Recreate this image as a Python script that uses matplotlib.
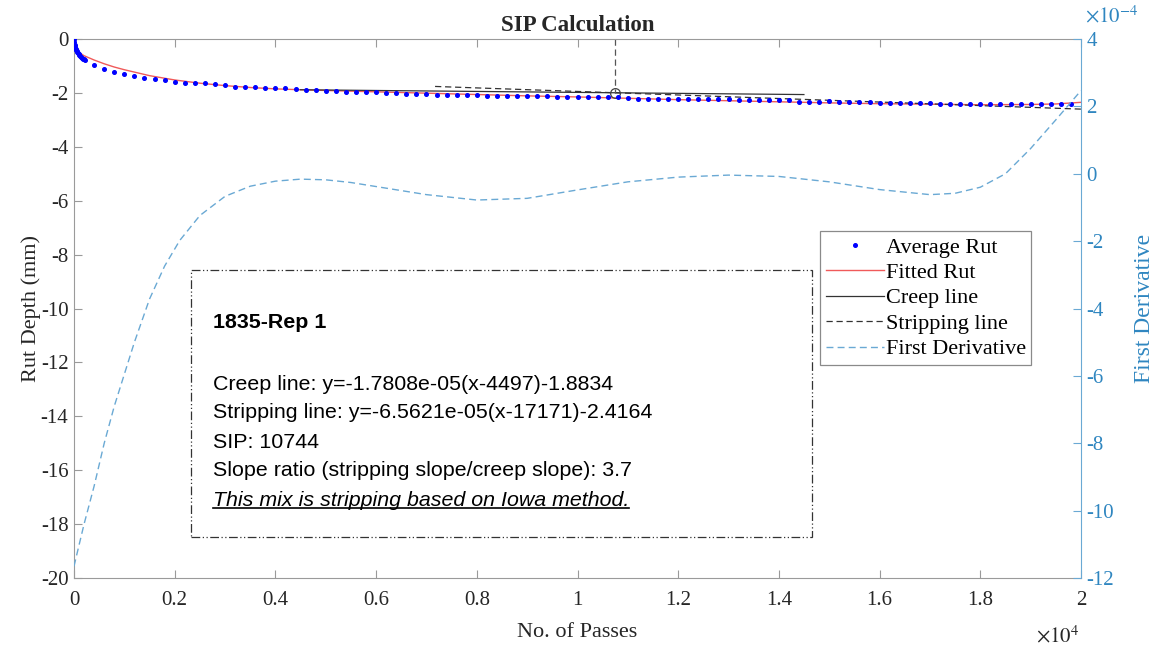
import numpy as np
import matplotlib.pyplot as plt
from matplotlib.patches import Rectangle
from matplotlib.lines import Line2D

plt.rcParams["axes.unicode_minus"] = False
plt.rcParams["mathtext.fontset"] = "stix"
SERIF = ["Liberation Serif", "DejaVu Serif"]
SANS = ["Liberation Sans", "DejaVu Sans"]

# ---- data ----
# average rut: dense start, then one reading every 200 passes
rut_pass = [0, 5, 10, 15, 20, 30, 40, 50, 60, 75, 90, 105, 120, 140, 160, 180, 200, 220,
            400, 600, 800, 1000, 1200, 1400, 1600, 1800, 2000, 2200, 2400, 2600, 2800, 3000,
            3200, 3400, 3600, 3800, 4000, 4200, 4400, 4600, 4800, 5000, 5200, 5400, 5600, 5800,
            6000, 6200, 6400, 6600, 6800, 7000, 7200, 7400, 7600, 7800, 8000, 8200, 8400, 8600,
            8800, 9000, 9200, 9400, 9600, 9800, 10000, 10200, 10400, 10600, 10800, 11000, 11200,
            11400, 11600, 11800, 12000, 12200, 12400, 12600, 12800, 13000, 13200, 13400, 13600,
            13800, 14000, 14200, 14400, 14600, 14800, 15000, 15200, 15400, 15600, 15800, 16000,
            16200, 16400, 16600, 16800, 17000, 17200, 17400, 17600, 17800, 18000, 18200, 18400,
            18600, 18800, 19000, 19200, 19400, 19600, 19800]
rut_avg = [0, -0.12, -0.22, -0.28, -0.32, -0.37, -0.41, -0.45, -0.48, -0.52, -0.56, -0.59,
           -0.62, -0.66, -0.70, -0.73, -0.76, -0.79,
           -0.95, -1.10, -1.21, -1.31, -1.37, -1.43, -1.49, -1.53, -1.58, -1.62, -1.64, -1.65,
           -1.66, -1.71, -1.77, -1.79, -1.79, -1.81, -1.81, -1.83, -1.86, -1.91, -1.90, -1.93,
           -1.93, -1.95, -1.96, -1.97, -1.97, -2.02, -2.02, -2.03, -2.03, -2.04, -2.06, -2.07,
           -2.07, -2.08, -2.08, -2.10, -2.12, -2.12, -2.12, -2.13, -2.13, -2.13, -2.14, -2.14,
           -2.14, -2.16, -2.16, -2.16, -2.17, -2.19, -2.21, -2.21, -2.21, -2.22, -2.22, -2.23,
           -2.23, -2.23, -2.24, -2.24, -2.26, -2.26, -2.27, -2.27, -2.28, -2.28, -2.32, -2.32,
           -2.32, -2.31, -2.32, -2.32, -2.33, -2.34, -2.36, -2.37, -2.37, -2.38, -2.39, -2.39,
           -2.40, -2.41, -2.41, -2.42, -2.42, -2.43, -2.42, -2.43, -2.42, -2.43, -2.42, -2.43,
           -2.42, -2.40]

fit_pass = [0, 100, 200, 400, 600, 800, 1000, 1500, 2000, 2500, 3000, 3500, 4000, 4497,
            5000, 6000, 7000, 8000, 9000, 10000, 11000, 12000, 13000, 14000, 15000, 16000,
            17000, 18000, 19000, 19500, 20000]
fit_rut = [-0.33, -0.50, -0.62, -0.78, -0.92, -1.04, -1.14, -1.36, -1.52, -1.64, -1.73,
           -1.80, -1.85, -1.883, -1.91, -1.96, -2.01, -2.06, -2.11, -2.15, -2.20, -2.25,
           -2.29, -2.33, -2.37, -2.40, -2.42, -2.44, -2.43, -2.41, -2.35]

# first derivative, in units of 1e-4
der_pass = [0, 200, 400, 600, 800, 1000, 1200, 1500, 1800, 2100, 2500, 3000, 3500, 4000,
            4500, 5000, 5500, 6000, 7000, 8000, 9000, 10000, 11000, 12000, 13000, 14000,
            15000, 16000, 17000, 17500, 18000, 18500, 19000, 19500, 20000]
der_val = [-11.65, -10.4, -9.27, -8.0, -6.9, -5.95, -5.0, -3.72, -2.74, -1.98, -1.24, -0.67,
           -0.37, -0.22, -0.16, -0.18, -0.26, -0.38, -0.62, -0.78, -0.73, -0.48, -0.24, -0.10,
           -0.04, -0.08, -0.24, -0.47, -0.62, -0.58, -0.40, 0.0, 0.75, 1.6, 2.47]

creep_slope, creep_x0, creep_y0 = -1.7808e-05, 4497, -1.8834
strip_slope, strip_x0, strip_y0 = -6.5621e-05, 17171, -2.4164
sip = 10744
slope_ratio = 3.7
line_len = 10000
sample = "1835-Rep 1"

BLUE_AX = "#2f86c0"
BLUE_LN = "#6aa9d4"
GREY = "#9a9a9a"
TXT = "#262626"

fig = plt.figure(figsize=(11.57, 6.45), dpi=100)
ax = fig.add_axes([74 / 1157, 67 / 645, 1007 / 1157, 539 / 645])
ax2 = ax.twinx()

ax.plot(rut_pass, rut_avg, ls="none", marker="o", ms=2.6, mfc="#0000ff", mec="#0000ff",
        label="Average Rut", zorder=3)
ax.plot(fit_pass, fit_rut, color="#f05a5a", lw=1.0, label="Fitted Rut", zorder=2)

cx = np.array([creep_x0, creep_x0 + line_len])
ax.plot(cx, creep_slope * (cx - creep_x0) + creep_y0, color="#333333", lw=0.9,
        label="Creep line")
sx = np.array([strip_x0 - line_len, 20000])
ax.plot(sx, strip_slope * (sx - strip_x0) + strip_y0, color="#333333", lw=0.9,
        ls=(0, (5, 3)), label="Stripping line")

sip_y = creep_slope * (sip - creep_x0) + creep_y0
ax.plot([sip, sip], [0, sip_y], color="#555555", lw=0.9, ls=(0, (5, 3)))
ax.plot([sip], [sip_y], marker="o", ms=7, mfc="none", mec="#444444", mew=0.9)

ax2.plot(der_pass, der_val, color=BLUE_LN, lw=1.0, ls=(0, (5, 3)), label="First Derivative")

# axes styling
ax.set_xlim(0, 20000)
ax.set_ylim(-20, 0)
ax2.set_ylim(-12, 4)
xt = np.arange(0, 20001, 2000)
ax.set_xticks(xt)
ax.set_xticklabels([f"{v / 1e4:g}" for v in xt], family=SERIF, fontsize=15, color=TXT)
yt = np.arange(-20, 1, 2)
ax.set_yticks(yt)
ax.set_yticklabels([str(v) for v in yt], family=SERIF, fontsize=15, color=TXT)
rt = np.arange(-12, 5, 2)
ax2.set_yticks(rt)
ax2.set_yticklabels([str(v) for v in rt], family=SERIF, fontsize=15, color=BLUE_AX)

ax.tick_params(axis="x", direction="in", top=True, length=6, color=GREY, pad=9.5)
ax.tick_params(axis="y", direction="in", right=False, length=6, color=GREY, pad=4)
ax2.tick_params(axis="y", direction="in", length=6, color=BLUE_LN, pad=4)
for s in ["left", "top", "bottom"]:
    ax.spines[s].set_color(GREY)
    ax2.spines[s].set_visible(False)
ax.spines["right"].set_visible(False)
ax2.spines["right"].set_color(BLUE_LN)

ax.set_xlabel("No. of Passes", family=SERIF, fontsize=16, color=TXT, labelpad=9)
ax.set_ylabel("Rut Depth (mm)", family=SERIF, fontsize=16, color=TXT, labelpad=0)
ax2.set_ylabel("First Derivative", family=SERIF, fontsize=17, color=BLUE_AX, labelpad=14)
ax.set_title("SIP Calculation", family=SERIF, fontsize=16.5, fontweight="bold",
             color=TXT, pad=6)

fig.text(1058 / 1157, 1 - 636 / 645, r"$\times10^{4}$", fontsize=15, color=TXT,
         ha="center", va="center")
fig.text(1112 / 1157, 1 - 16 / 645, r"$\times10^{-4}$", fontsize=15, color=BLUE_AX,
         ha="center", va="center")

# legend
h1, l1 = ax.get_legend_handles_labels()
h2, l2 = ax2.get_legend_handles_labels()
leg = ax2.legend(h1 + h2, l1 + l2, loc="upper left", bbox_to_anchor=(0.741, 0.643),
                 prop={"family": SERIF, "size": 16}, frameon=True, fancybox=False,
                 edgecolor="#8a8a8a", framealpha=1, handlelength=2.6, handletextpad=0.1,
                 labelspacing=0.22, borderpad=0.25, borderaxespad=0, markerscale=1.0)
leg.get_frame().set_linewidth(0.9)

# annotation box
bx0, bx1, by0, by1 = 0.116, 0.733, 0.076, 0.572
ax.add_patch(Rectangle((bx0, by0), bx1 - bx0, by1 - by0, transform=ax.transAxes,
                       fill=False, ec="#333333", lw=0.9, ls=(0, (7, 2, 1, 2, 1, 2)),
                       zorder=4))
tx = 0.138
ax.text(tx, (578 - 322) / 539, sample, transform=ax.transAxes, family=SANS, fontsize=15.4,
        fontweight="bold", va="center", color="black")
lines = [
    f"Creep line: y={creep_slope:.4e}(x-{creep_x0}){creep_y0:+.4f}",
    f"Stripping line: y={strip_slope:.4e}(x-{strip_x0}){strip_y0:+.4f}",
    f"SIP: {sip}",
    f"Slope ratio (stripping slope/creep slope): {slope_ratio}",
]
ys = [384, 413, 442, 471]
for s, yp in zip(lines, ys):
    ax.text(tx, (578 - yp) / 539, s, transform=ax.transAxes, family=SANS, fontsize=15.4,
            va="center", color="black")
last = ax.text(tx, (578 - 500) / 539, "This mix is stripping based on Iowa method.",
               transform=ax.transAxes, family=SANS, fontsize=15.4, style="italic",
               va="center", color="black")

fig.canvas.draw()
bb = last.get_window_extent().transformed(fig.transFigure.inverted())
fig.add_artist(Line2D([bb.x0, bb.x1], [bb.y0 + 0.002, bb.y0 + 0.002],
                      transform=fig.transFigure, color="black", lw=1.2))

fig.savefig("out.png", dpi=100)
